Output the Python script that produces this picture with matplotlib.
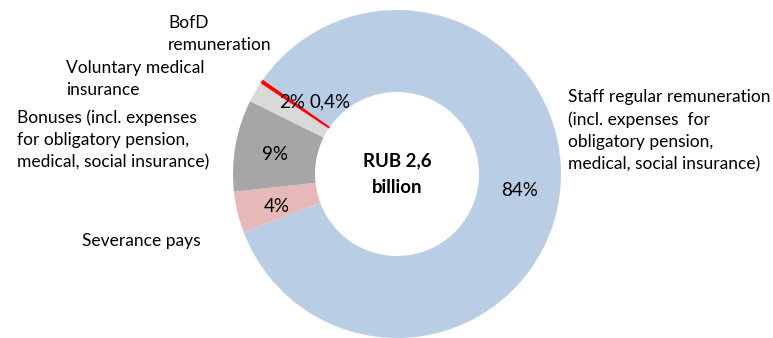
import numpy as np
import matplotlib
matplotlib.use('Agg')
import matplotlib.pyplot as plt

plt.rcParams['font.family'] = ['Lato', 'DejaVu Sans']

# payroll structure, share of total (%)
categories = ['Staff regular remuneration\n(incl. expenses  for\nobligatory pension,\nmedical, social insurance)',
              'Severance pays',
              'Bonuses (incl. expenses\nfor obligatory pension,\nmedical, social insurance)',
              'Voluntary medical\ninsurance',
              'BofD\nremuneration']
shares = [84, 4, 9, 2, 0.4]
colors = ['#B9CDE5', '#E6B9B8', '#A6A6A6', '#D9D9D9', '#FF0000']
total_label = 'RUB 2,6\nbillion'

W, H = 773, 338
fig = plt.figure(figsize=(W / 100, H / 100), dpi=100)

# donut centre and radius in pixels
cx, cy, R = 397, 174, 164
ax = fig.add_axes([(cx - R) / W, 1 - (cy + R) / H, 2 * R / W, 2 * R / H])
wedges, _ = ax.pie(shares, colors=colors, startangle=144.9, counterclock=False,
                   radius=1.0, wedgeprops=dict(width=0.5, linewidth=0))
ax.set_xlim(-1, 1)
ax.set_ylim(-1, 1)
ax.set_aspect('auto')
ax.axis('off')


def px(x, y):
    return x / W, 1 - y / H


fs = 12.5
pct = [f'{v:g}'.replace('.', ',') + '%' for v in shares]
pct_pos = [(520, 191), (277, 207), (275, 154), (292, 103), (330, 102)]
for t, (x, y) in zip(pct, pct_pos):
    fig.text(*px(x, y), t, ha='center', va='center', fontsize=13.5)

fig.text(*px(cx, 174), total_label, ha='center', va='center', fontsize=13.4,
         fontweight='bold', linespacing=1.7)

# outer category labels: (left x, y of first line centre)
label_pos = [(568, 97), (82, 241), (17, 117), (66, 68), (168, 23)]
for t, (x, y) in zip(categories, label_pos):
    fig.text(*px(x, y - 8), t, ha='left', va='top', fontsize=fs, linespacing=1.47)

fig.savefig('out.png', dpi=100)
